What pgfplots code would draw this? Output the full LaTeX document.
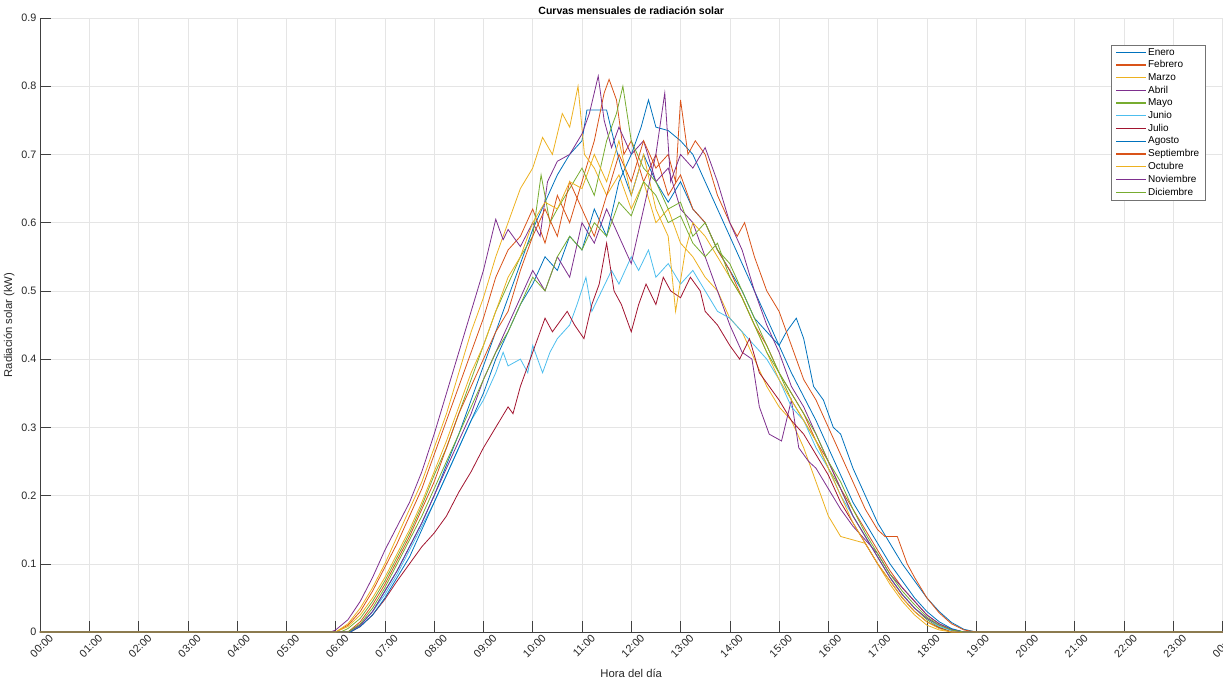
\documentclass[border=0pt]{standalone}
\usepackage{pgfplots}
\pgfplotsset{compat=1.18}
\usepackage{fontspec}
\setmainfont{Liberation Sans}
\definecolor{mBlue}{rgb}{0,0.447,0.741}
\definecolor{mOrange}{rgb}{0.85,0.325,0.098}
\definecolor{mYellow}{rgb}{0.929,0.694,0.125}
\definecolor{mPurple}{rgb}{0.494,0.184,0.556}
\definecolor{mGreen}{rgb}{0.466,0.674,0.188}
\definecolor{mLBlue}{rgb}{0.301,0.745,0.933}
\definecolor{mRed}{rgb}{0.635,0.078,0.184}
\definecolor{axgray}{rgb}{0.25,0.25,0.25}
\begin{document}
\begin{tikzpicture}
\begin{axis}[
  scale only axis, width=1182.5pt, height=614pt,
  xmin=0, xmax=24, ymin=0, ymax=0.9,
  clip=false,
  axis x line*=bottom, axis y line*=left,
  axis line style={axgray, line width=0.5pt},
  every tick/.style={axgray, line width=0.5pt},
  tick align=inside, major tick length=11pt,
  xtick={0,1,...,24},
  xticklabels={00:00,01:00,02:00,03:00,04:00,05:00,06:00,07:00,08:00,09:00,10:00,11:00,12:00,13:00,14:00,15:00,16:00,17:00,18:00,19:00,20:00,21:00,22:00,23:00,00:00},
  ytick={0,0.1,0.2,0.3,0.4,0.5,0.6,0.7,0.8,0.9},
  yticklabel style={/pgf/number format/.cd, fixed, precision=1, assume math mode=true},
  x tick label style={rotate=45, anchor=north east, xshift=6pt, yshift=-6pt, inner sep=1pt},
  tick label style={font=\fontsize{10.8}{12}\selectfont, text=black!85},
  grid=major, major grid style={black!10, line width=0.5pt},
  title={Curvas mensuales de radiación solar},
  title style={at={(axis description cs:0.5,1.017)}, anchor=center, yshift=-9pt, font=\bfseries\fontsize{10.5}{12}\selectfont},
  xlabel={Hora del día}, ylabel={Radiación solar (kW)},
  label style={font=\fontsize{11.3}{13}\selectfont, text=black!85},
  xlabel style={at={(axis description cs:0.5,-0.0668)}, anchor=center},
  ylabel style={at={(axis description cs:-0.0262,0.5)}, anchor=center},
  every axis plot/.append style={line width=0.8pt},
  legend image code/.code={\draw[#1, line width=1.2pt] (0pt,0pt) -- (30pt,0pt);},
  legend cell align=left,
  legend style={at={(axis description cs:1,1)}, anchor=north east, xshift=-17.5pt, yshift=-27pt,
    draw=black!55, line width=0.5pt, font=\fontsize{10}{11}\selectfont,
    inner xsep=4pt, inner ysep=1.5pt, row sep=1.1pt, nodes={inner sep=1.5pt}},
]
% Enero
\addplot[mBlue] table[row sep=\\] {0 0\\ 6.25 0\\ 6.5 0.01\\ 6.75 0.03\\ 7.0 0.06\\ 7.25 0.09\\ 7.5 0.125\\ 7.75 0.16\\ 8.0 0.2\\ 8.25 0.245\\ 8.5 0.29\\ 8.75 0.34\\ 9.0 0.39\\ 9.25 0.44\\ 9.5 0.49\\ 9.75 0.54\\ 10.0 0.59\\ 10.25 0.63\\ 10.5 0.67\\ 10.75 0.7\\ 11.0 0.72\\ 11.1 0.765\\ 11.5 0.765\\ 11.65 0.72\\ 11.8 0.68\\ 12.0 0.64\\ 12.25 0.7\\ 12.5 0.66\\ 12.75 0.63\\ 13.0 0.66\\ 13.25 0.62\\ 13.5 0.6\\ 13.75 0.56\\ 14.0 0.53\\ 14.25 0.5\\ 14.5 0.46\\ 14.75 0.44\\ 15.0 0.42\\ 15.15 0.44\\ 15.35 0.46\\ 15.5 0.43\\ 15.7 0.36\\ 15.9 0.34\\ 16.1 0.3\\ 16.25 0.29\\ 16.5 0.24\\ 16.75 0.2\\ 17.0 0.16\\ 17.25 0.13\\ 17.5 0.1\\ 17.75 0.075\\ 18.0 0.05\\ 18.25 0.03\\ 18.5 0.014\\ 18.75 0.004\\ 19.0 0\\ 24 0\\};
\addlegendentry{Enero}
% Febrero
\addplot[mOrange] table[row sep=\\] {0 0\\ 6.0 0\\ 6.25 0.01\\ 6.5 0.03\\ 6.75 0.06\\ 7.0 0.095\\ 7.25 0.13\\ 7.5 0.17\\ 7.75 0.21\\ 8.0 0.26\\ 8.25 0.31\\ 8.5 0.36\\ 8.75 0.41\\ 9.0 0.46\\ 9.25 0.52\\ 9.5 0.56\\ 9.75 0.58\\ 10.0 0.62\\ 10.25 0.57\\ 10.5 0.64\\ 10.75 0.6\\ 11.0 0.66\\ 11.25 0.72\\ 11.45 0.79\\ 11.55 0.81\\ 11.7 0.78\\ 11.85 0.7\\ 12.0 0.72\\ 12.25 0.66\\ 12.5 0.7\\ 12.75 0.64\\ 13.0 0.67\\ 13.25 0.62\\ 13.5 0.6\\ 13.75 0.56\\ 14.0 0.53\\ 14.25 0.49\\ 14.5 0.45\\ 14.75 0.42\\ 15.0 0.38\\ 15.25 0.35\\ 15.5 0.32\\ 15.75 0.28\\ 16.0 0.25\\ 16.25 0.21\\ 16.5 0.18\\ 16.75 0.15\\ 17.0 0.12\\ 17.25 0.09\\ 17.5 0.065\\ 17.75 0.045\\ 18.0 0.025\\ 18.25 0.012\\ 18.5 0.004\\ 18.75 0\\ 24 0\\};
\addlegendentry{Febrero}
% Marzo
\addplot[mYellow] table[row sep=\\] {0 0\\ 6.0 0\\ 6.25 0.012\\ 6.5 0.035\\ 6.75 0.065\\ 7.0 0.1\\ 7.25 0.14\\ 7.5 0.18\\ 7.75 0.22\\ 8.0 0.27\\ 8.25 0.32\\ 8.5 0.38\\ 8.75 0.44\\ 9.0 0.49\\ 9.25 0.55\\ 9.5 0.6\\ 9.75 0.65\\ 10.0 0.68\\ 10.2 0.725\\ 10.4 0.7\\ 10.6 0.76\\ 10.75 0.74\\ 10.92 0.8\\ 11.05 0.7\\ 11.25 0.68\\ 11.5 0.64\\ 11.75 0.67\\ 12.0 0.62\\ 12.25 0.66\\ 12.5 0.6\\ 12.75 0.62\\ 13.0 0.57\\ 13.25 0.55\\ 13.5 0.52\\ 13.75 0.5\\ 14.0 0.46\\ 14.25 0.44\\ 14.5 0.4\\ 14.75 0.36\\ 15.0 0.33\\ 15.25 0.31\\ 15.5 0.27\\ 15.75 0.22\\ 16.0 0.17\\ 16.25 0.14\\ 16.5 0.135\\ 16.75 0.13\\ 17.0 0.1\\ 17.25 0.07\\ 17.5 0.045\\ 17.75 0.025\\ 18.0 0.01\\ 18.25 0.003\\ 18.5 0\\ 24 0\\};
\addlegendentry{Marzo}
% Abril
\addplot[mPurple] table[row sep=\\] {0 0\\ 5.9 0\\ 6.0 0.003\\ 6.25 0.018\\ 6.5 0.045\\ 6.75 0.08\\ 7.0 0.12\\ 7.25 0.155\\ 7.5 0.19\\ 7.75 0.235\\ 8.0 0.29\\ 8.25 0.35\\ 8.5 0.41\\ 8.75 0.47\\ 9.0 0.53\\ 9.1 0.56\\ 9.25 0.605\\ 9.4 0.575\\ 9.5 0.59\\ 9.75 0.565\\ 10.0 0.6\\ 10.15 0.58\\ 10.3 0.66\\ 10.5 0.69\\ 10.75 0.7\\ 11.0 0.73\\ 11.15 0.76\\ 11.33 0.815\\ 11.45 0.75\\ 11.6 0.71\\ 11.75 0.74\\ 12.0 0.7\\ 12.25 0.72\\ 12.5 0.66\\ 12.75 0.68\\ 13.0 0.62\\ 13.25 0.6\\ 13.5 0.55\\ 13.75 0.5\\ 14.0 0.45\\ 14.25 0.41\\ 14.45 0.4\\ 14.6 0.33\\ 14.8 0.29\\ 15.05 0.28\\ 15.25 0.34\\ 15.4 0.27\\ 15.6 0.25\\ 15.75 0.24\\ 16.0 0.21\\ 16.25 0.18\\ 16.5 0.155\\ 16.75 0.135\\ 17.0 0.115\\ 17.25 0.085\\ 17.5 0.065\\ 17.75 0.045\\ 18.0 0.025\\ 18.25 0.012\\ 18.5 0.004\\ 18.75 0\\ 24 0\\};
\addlegendentry{Abril}
% Mayo
\addplot[mGreen] table[row sep=\\] {0 0\\ 6.1 0\\ 6.25 0.005\\ 6.5 0.02\\ 6.75 0.045\\ 7.0 0.075\\ 7.25 0.11\\ 7.5 0.145\\ 7.75 0.185\\ 8.0 0.23\\ 8.25 0.27\\ 8.5 0.32\\ 8.75 0.37\\ 9.0 0.42\\ 9.25 0.47\\ 9.5 0.51\\ 9.75 0.55\\ 10.0 0.58\\ 10.17 0.67\\ 10.35 0.6\\ 10.5 0.62\\ 10.75 0.65\\ 11.0 0.68\\ 11.25 0.64\\ 11.5 0.72\\ 11.7 0.76\\ 11.83 0.8\\ 12.0 0.72\\ 12.25 0.68\\ 12.5 0.66\\ 12.75 0.62\\ 13.0 0.63\\ 13.25 0.58\\ 13.5 0.6\\ 13.75 0.56\\ 14.0 0.54\\ 14.25 0.5\\ 14.5 0.46\\ 14.75 0.42\\ 15.0 0.38\\ 15.25 0.34\\ 15.5 0.31\\ 15.75 0.28\\ 16.0 0.24\\ 16.25 0.21\\ 16.5 0.17\\ 16.75 0.14\\ 17.0 0.11\\ 17.25 0.08\\ 17.5 0.055\\ 17.75 0.035\\ 18.0 0.018\\ 18.25 0.007\\ 18.5 0\\ 24 0\\};
\addlegendentry{Mayo}
% Junio
\addplot[mLBlue] table[row sep=\\] {0 0\\ 6.25 0\\ 6.5 0.01\\ 6.75 0.03\\ 7.0 0.055\\ 7.25 0.085\\ 7.5 0.12\\ 7.75 0.155\\ 8.0 0.19\\ 8.25 0.23\\ 8.5 0.27\\ 8.75 0.31\\ 9.0 0.34\\ 9.25 0.38\\ 9.4 0.41\\ 9.5 0.39\\ 9.75 0.4\\ 9.9 0.38\\ 10.0 0.42\\ 10.2 0.38\\ 10.35 0.41\\ 10.5 0.43\\ 10.75 0.45\\ 10.9 0.48\\ 11.08 0.52\\ 11.2 0.47\\ 11.4 0.5\\ 11.6 0.53\\ 11.75 0.51\\ 12.0 0.55\\ 12.15 0.53\\ 12.35 0.56\\ 12.5 0.52\\ 12.75 0.54\\ 13.0 0.51\\ 13.25 0.53\\ 13.5 0.5\\ 13.75 0.47\\ 14.0 0.46\\ 14.25 0.44\\ 14.5 0.42\\ 14.75 0.4\\ 15.0 0.37\\ 15.25 0.33\\ 15.5 0.31\\ 15.75 0.27\\ 16.0 0.24\\ 16.25 0.2\\ 16.5 0.17\\ 16.75 0.14\\ 17.0 0.11\\ 17.25 0.08\\ 17.5 0.055\\ 17.75 0.035\\ 18.0 0.02\\ 18.25 0.008\\ 18.5 0.002\\ 18.75 0\\ 24 0\\};
\addlegendentry{Junio}
% Julio
\addplot[mRed] table[row sep=\\] {0 0\\ 6.3 0\\ 6.5 0.008\\ 6.75 0.025\\ 7.0 0.048\\ 7.25 0.075\\ 7.5 0.1\\ 7.75 0.125\\ 8.0 0.145\\ 8.25 0.17\\ 8.5 0.205\\ 8.75 0.235\\ 9.0 0.27\\ 9.25 0.3\\ 9.5 0.33\\ 9.6 0.32\\ 9.75 0.36\\ 10.0 0.41\\ 10.1 0.43\\ 10.25 0.46\\ 10.4 0.44\\ 10.5 0.45\\ 10.7 0.47\\ 10.85 0.45\\ 11.04 0.43\\ 11.2 0.48\\ 11.35 0.51\\ 11.5 0.57\\ 11.65 0.5\\ 11.8 0.48\\ 12.0 0.44\\ 12.15 0.48\\ 12.3 0.51\\ 12.5 0.48\\ 12.65 0.52\\ 12.8 0.5\\ 13.0 0.49\\ 13.2 0.52\\ 13.4 0.5\\ 13.5 0.47\\ 13.75 0.45\\ 14.0 0.42\\ 14.2 0.4\\ 14.4 0.43\\ 14.6 0.38\\ 14.8 0.36\\ 15.0 0.34\\ 15.25 0.31\\ 15.5 0.29\\ 15.75 0.26\\ 16.0 0.23\\ 16.25 0.19\\ 16.5 0.16\\ 16.75 0.13\\ 17.0 0.1\\ 17.25 0.075\\ 17.5 0.05\\ 17.75 0.03\\ 18.0 0.015\\ 18.25 0.006\\ 18.5 0\\ 24 0\\};
\addlegendentry{Julio}
% Agosto
\addplot[mBlue] table[row sep=\\] {0 0\\ 6.3 0\\ 6.5 0.008\\ 6.75 0.025\\ 7.0 0.05\\ 7.25 0.08\\ 7.5 0.11\\ 7.75 0.15\\ 8.0 0.19\\ 8.25 0.23\\ 8.5 0.27\\ 8.75 0.31\\ 9.0 0.35\\ 9.25 0.4\\ 9.5 0.44\\ 9.75 0.48\\ 10.0 0.51\\ 10.25 0.55\\ 10.5 0.53\\ 10.75 0.58\\ 11.0 0.56\\ 11.25 0.62\\ 11.5 0.58\\ 11.75 0.66\\ 12.0 0.7\\ 12.2 0.74\\ 12.35 0.78\\ 12.5 0.74\\ 12.75 0.735\\ 13.0 0.72\\ 13.25 0.7\\ 13.5 0.66\\ 13.75 0.62\\ 14.0 0.58\\ 14.25 0.54\\ 14.5 0.5\\ 14.75 0.46\\ 15.0 0.42\\ 15.25 0.38\\ 15.5 0.345\\ 15.75 0.31\\ 16.0 0.27\\ 16.25 0.23\\ 16.5 0.19\\ 16.75 0.16\\ 17.0 0.13\\ 17.25 0.1\\ 17.5 0.075\\ 17.75 0.05\\ 18.0 0.03\\ 18.25 0.015\\ 18.5 0.005\\ 18.75 0\\ 24 0\\};
\addlegendentry{Agosto}
% Septiembre
\addplot[mOrange] table[row sep=\\] {0 0\\ 6.25 0\\ 6.5 0.015\\ 6.75 0.04\\ 7.0 0.07\\ 7.25 0.105\\ 7.5 0.14\\ 7.75 0.18\\ 8.0 0.22\\ 8.25 0.27\\ 8.5 0.32\\ 8.75 0.36\\ 9.0 0.4\\ 9.25 0.44\\ 9.5 0.47\\ 9.75 0.53\\ 10.0 0.58\\ 10.25 0.62\\ 10.5 0.58\\ 10.75 0.66\\ 11.0 0.62\\ 11.25 0.58\\ 11.5 0.64\\ 11.75 0.7\\ 12.0 0.66\\ 12.25 0.72\\ 12.5 0.68\\ 12.75 0.7\\ 12.9 0.66\\ 13.0 0.78\\ 13.15 0.7\\ 13.3 0.72\\ 13.5 0.7\\ 13.75 0.64\\ 14.0 0.6\\ 14.15 0.58\\ 14.3 0.6\\ 14.5 0.55\\ 14.75 0.5\\ 15.0 0.47\\ 15.25 0.42\\ 15.5 0.37\\ 15.75 0.34\\ 16.0 0.3\\ 16.25 0.26\\ 16.5 0.22\\ 16.75 0.18\\ 17.0 0.15\\ 17.15 0.14\\ 17.4 0.14\\ 17.6 0.1\\ 17.75 0.08\\ 18.0 0.05\\ 18.25 0.028\\ 18.5 0.012\\ 18.75 0.003\\ 19.0 0\\ 24 0\\};
\addlegendentry{Septiembre}
% Octubre
\addplot[mYellow] table[row sep=\\] {0 0\\ 6.0 0\\ 6.25 0.008\\ 6.5 0.025\\ 6.75 0.05\\ 7.0 0.08\\ 7.25 0.115\\ 7.5 0.15\\ 7.75 0.19\\ 8.0 0.235\\ 8.25 0.28\\ 8.5 0.33\\ 8.75 0.38\\ 9.0 0.42\\ 9.25 0.47\\ 9.5 0.52\\ 9.75 0.55\\ 10.0 0.6\\ 10.25 0.63\\ 10.5 0.62\\ 10.75 0.66\\ 11.0 0.65\\ 11.25 0.7\\ 11.5 0.66\\ 11.75 0.72\\ 12.0 0.64\\ 12.25 0.7\\ 12.5 0.62\\ 12.75 0.58\\ 12.9 0.47\\ 13.1 0.56\\ 13.25 0.6\\ 13.5 0.58\\ 13.75 0.55\\ 14.0 0.52\\ 14.25 0.49\\ 14.5 0.45\\ 14.75 0.41\\ 15.0 0.37\\ 15.25 0.34\\ 15.5 0.31\\ 15.75 0.28\\ 16.0 0.24\\ 16.25 0.2\\ 16.5 0.16\\ 16.75 0.13\\ 17.0 0.1\\ 17.25 0.075\\ 17.5 0.05\\ 17.75 0.03\\ 18.0 0.015\\ 18.25 0.005\\ 18.5 0\\ 24 0\\};
\addlegendentry{Octubre}
% Noviembre
\addplot[mPurple] table[row sep=\\] {0 0\\ 6.25 0\\ 6.5 0.01\\ 6.75 0.03\\ 7.0 0.06\\ 7.25 0.09\\ 7.5 0.125\\ 7.75 0.16\\ 8.0 0.2\\ 8.25 0.24\\ 8.5 0.28\\ 8.75 0.32\\ 9.0 0.37\\ 9.25 0.41\\ 9.5 0.45\\ 9.75 0.49\\ 10.0 0.53\\ 10.25 0.5\\ 10.5 0.55\\ 10.75 0.52\\ 11.0 0.6\\ 11.25 0.57\\ 11.5 0.62\\ 11.75 0.58\\ 12.0 0.54\\ 12.25 0.62\\ 12.5 0.7\\ 12.68 0.79\\ 12.8 0.66\\ 13.0 0.7\\ 13.25 0.68\\ 13.5 0.71\\ 13.75 0.66\\ 14.0 0.6\\ 14.25 0.56\\ 14.5 0.5\\ 14.75 0.45\\ 15.0 0.41\\ 15.25 0.36\\ 15.5 0.33\\ 15.75 0.29\\ 16.0 0.25\\ 16.25 0.21\\ 16.5 0.17\\ 16.75 0.14\\ 17.0 0.11\\ 17.25 0.08\\ 17.5 0.055\\ 17.75 0.035\\ 18.0 0.02\\ 18.25 0.01\\ 18.5 0.003\\ 18.75 0\\ 24 0\\};
\addlegendentry{Noviembre}
% Diciembre
\addplot[mGreen] table[row sep=\\] {0 0\\ 6.25 0\\ 6.5 0.012\\ 6.75 0.035\\ 7.0 0.065\\ 7.25 0.1\\ 7.5 0.135\\ 7.75 0.17\\ 8.0 0.21\\ 8.25 0.25\\ 8.5 0.29\\ 8.75 0.33\\ 9.0 0.37\\ 9.25 0.41\\ 9.5 0.44\\ 9.75 0.48\\ 10.0 0.52\\ 10.25 0.5\\ 10.5 0.55\\ 10.75 0.58\\ 11.0 0.56\\ 11.25 0.6\\ 11.5 0.58\\ 11.75 0.63\\ 12.0 0.61\\ 12.25 0.66\\ 12.5 0.64\\ 12.75 0.6\\ 13.0 0.61\\ 13.25 0.57\\ 13.5 0.55\\ 13.75 0.57\\ 14.0 0.52\\ 14.25 0.49\\ 14.5 0.45\\ 14.75 0.41\\ 15.0 0.38\\ 15.25 0.35\\ 15.5 0.32\\ 15.75 0.29\\ 16.0 0.25\\ 16.25 0.22\\ 16.5 0.18\\ 16.75 0.145\\ 17.0 0.115\\ 17.25 0.085\\ 17.5 0.06\\ 17.75 0.04\\ 18.0 0.022\\ 18.25 0.01\\ 18.5 0.003\\ 18.75 0\\ 24 0\\};
\addlegendentry{Diciembre}
\end{axis}
\pgfresetboundingbox
\useasboundingbox (-40pt,-50pt) rectangle (1183pt,632pt);
\end{tikzpicture}
\end{document}
